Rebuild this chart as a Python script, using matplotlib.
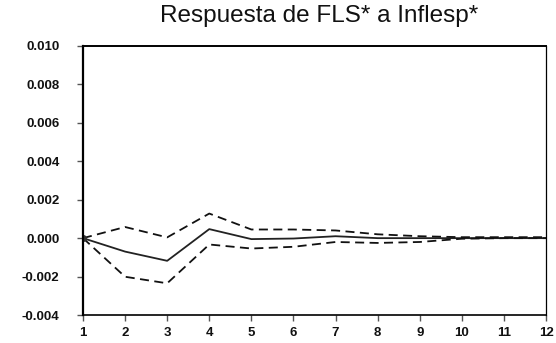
import numpy as np
import matplotlib.pyplot as plt

plt.rcParams['font.family'] = ['Liberation Sans', 'DejaVu Sans']

# impulse response and error bands
periods = [1, 2, 3, 4, 5, 6, 7, 8, 9, 10, 11, 12]
response = [0.0, -0.0007, -0.00118, 0.00047, -0.00005, -0.00002, 0.0001, 0.0, 0.0, 0.0, 0.0, 0.0]
upper = [0.0, 0.00058, 0.00004, 0.00128, 0.00045, 0.00045, 0.0004, 0.0002, 0.0001, 0.00005, 0.00005, 0.00005]
lower = [0.0, -0.00201, -0.00235, -0.00033, -0.00054, -0.00045, -0.0002, -0.00025, -0.0002, -0.00003, 0.0, 0.0]

yticks = [-0.004, -0.002, 0.000, 0.002, 0.004, 0.006, 0.008, 0.010]

fig = plt.figure(figsize=(5.56, 3.43), dpi=100)
ax = fig.add_axes([83/556, 1 - 315/343, 463/556, 269/343])

ax.plot(periods, response, color='#222222', lw=1.3)
ax.plot(periods, upper, color='#111111', lw=1.3, ls=(0, (5, 3)))
ax.plot(periods, lower, color='#111111', lw=1.3, ls=(0, (5, 3)))
ax.plot(periods[0], response[0], 'o', color='#333333', ms=4)

ax.set_xlim(1, 12)
ax.set_ylim(-0.004, 0.010)
ax.set_xticks(periods)
ax.set_yticks(yticks)
ax.set_yticklabels(['%.3f' % v for v in yticks])
ax.tick_params(labelsize=9.5, length=4, color='#555555', width=1)
ax.tick_params(axis='y', pad=13)
ax.tick_params(axis='x', pad=5)
for lab in ax.get_xticklabels() + ax.get_yticklabels():
    lab.set_fontweight('bold')
    lab.set_color('#111111')

ax.spines['left'].set_linewidth(1.6)
ax.spines['top'].set_linewidth(1.4)
ax.spines['bottom'].set_linewidth(1.2)
ax.spines['right'].set_linewidth(0.9)

fig.text(319/556, 1 - 16/343, 'Respuesta de FLS* a Inflesp*', ha='center', va='center',
         fontsize=17.5, color='#111111')

fig.savefig('out.png', dpi=100)
